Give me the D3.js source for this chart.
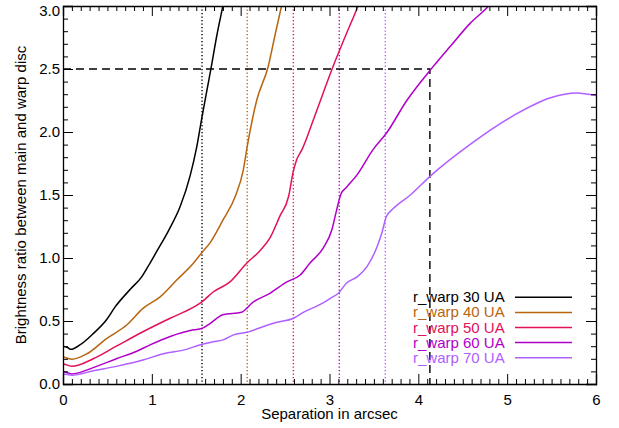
<!DOCTYPE html>
<html><head><meta charset="utf-8">
<script src="https://cdn.jsdelivr.net/npm/d3@7"></script>
<style>body{margin:0;background:#fff}svg{display:block}text{font-family:"Liberation Sans",Arial,Helvetica,sans-serif}</style>
</head><body><svg id="c" width="619" height="428"></svg>
<script>
const seriesNames = ["r_warp 30 UA","r_warp 40 UA","r_warp 50 UA","r_warp 60 UA","r_warp 70 UA"];
const seriesColors = ["#000000","#b8650f","#e3105a","#b000c8","#b060ff"];
const markerX = [1.565, 2.074, 2.593, 3.11, 3.628];
const xTicks = [0,1,2,3,4,5,6];
const yTicks = [0.0,0.5,1.0,1.5,2.0,2.5,3.0];
const refY = 2.5, refX = 4.13;

const s30 = [[0,0.30],[0.05,0.29],[0.09,0.275],[0.19,0.31],[0.34,0.40],[0.49,0.51],[0.585,0.61],[0.755,0.75],[0.886,0.85],[0.98,0.96],[1.07,1.07],[1.19,1.22],[1.32,1.41],[1.43,1.65],[1.505,1.88],[1.56,2.10],[1.62,2.33],[1.67,2.52],[1.73,2.76],[1.80,3.0],[1.83,3.1]];
const s40 = [[0,0.217],[0.05,0.205],[0.1,0.196],[0.27,0.24],[0.49,0.36],[0.72,0.47],[0.90,0.60],[1.09,0.69],[1.28,0.825],[1.47,0.96],[1.56,1.04],[1.655,1.12],[1.80,1.30],[1.94,1.49],[2.03,1.70],[2.075,1.89],[2.18,2.25],[2.31,2.52],[2.39,2.78],[2.46,3.0],[2.49,3.1]];
const s50 = [[0,0.16],[0.05,0.15],[0.1,0.14],[0.34,0.20],[0.60,0.30],[0.90,0.415],[1.20,0.52],[1.47,0.61],[1.56,0.65],[1.69,0.73],[1.88,0.81],[2.07,0.96],[2.22,1.06],[2.33,1.16],[2.44,1.33],[2.54,1.49],[2.59,1.68],[2.63,1.78],[2.69,1.86],[2.82,2.10],[3.04,2.52],[3.19,2.78],[3.32,3.0],[3.37,3.1]];
const s60 = [[0,0.10],[0.05,0.09],[0.1,0.08],[0.34,0.13],[0.60,0.20],[0.83,0.26],[0.98,0.31],[1.20,0.375],[1.47,0.43],[1.56,0.44],[1.655,0.48],[1.80,0.55],[2.01,0.57],[2.14,0.65],[2.33,0.72],[2.52,0.81],[2.67,0.865],[2.78,0.96],[2.93,1.08],[3.025,1.22],[3.08,1.38],[3.13,1.51],[3.19,1.56],[3.31,1.66],[3.49,1.86],[3.64,1.99],[3.87,2.25],[4.15,2.505],[4.36,2.68],[4.58,2.86],[4.79,3.0],[4.85,3.05]];
const s70 = [[0,0.08],[0.05,0.075],[0.1,0.07],[0.34,0.105],[0.60,0.14],[0.90,0.19],[1.13,0.24],[1.39,0.275],[1.54,0.31],[1.69,0.335],[1.80,0.35],[1.92,0.39],[2.07,0.41],[2.25,0.455],[2.41,0.49],[2.59,0.52],[2.71,0.57],[2.89,0.63],[3.01,0.68],[3.10,0.72],[3.19,0.80],[3.31,0.85],[3.42,0.93],[3.53,1.08],[3.59,1.20],[3.64,1.33],[3.70,1.38],[3.91,1.50],[4.15,1.66],[4.58,1.90],[5.07,2.13],[5.48,2.27],[5.78,2.31],[6.0,2.29]];
const seriesData = [s30,s40,s50,s60,s70];

const svg = d3.select("#c");
const L=63, R=596, T=6, B=384;
const FS = 15;
const x = d3.scaleLinear().domain([0,6]).range([L,R]);
const y = d3.scaleLinear().domain([0,3]).range([B,T]);

svg.append("defs").append("clipPath").attr("id","clip").append("rect")
  .attr("x",L).attr("y",T).attr("width",R-L).attr("height",B-T);

const g = svg.append("g").attr("clip-path","url(#clip)");

markerX.forEach((v,i)=>{
  g.append("line").attr("x1",x(v)).attr("x2",x(v)).attr("y1",T).attr("y2",B)
   .attr("stroke",seriesColors[i]).attr("stroke-width",1.4).attr("stroke-dasharray","1.3,2.2");
});
g.append("path").attr("d",`M${x(0)},${y(refY)}H${x(refX)}V${y(0)}`)
  .attr("fill","none").attr("stroke","#000").attr("stroke-width",1.4).attr("stroke-dasharray","8,5");

const line = d3.line().x(d=>x(d[0])).y(d=>y(d[1])).curve(d3.curveMonotoneX);
seriesData.forEach((d,i)=>{
  g.append("path").attr("d",line(d)).attr("fill","none")
   .attr("stroke",seriesColors[i]).attr("stroke-width",1.5);
});

const minorX = d3.range(0,61).filter(v=>v%10!==0).map(v=>v/10);
const minorY = d3.range(0,31).filter(v=>v%5!==0).map(v=>v/10);
function ax(make, tr, major, minor, fmt, pad){
  const gg = svg.append("g").attr("transform",tr);
  gg.call(make().tickValues(minor).tickSize(-5).tickFormat(""));
  gg.select(".domain").remove();
  const gm = svg.append("g").attr("transform",tr);
  gm.call(make().tickValues(major).tickSize(-10).tickPadding(pad).tickFormat(fmt || (()=>"")));
  gm.selectAll("text").attr("font-size",FS).attr("fill","#000").attr("font-family",null);
  [gg,gm].forEach(q=>q.selectAll(".tick line").attr("stroke","#000").attr("stroke-width",1));
  return gm;
}
ax(()=>d3.axisBottom(x), `translate(0,${B})`, xTicks, minorX, d3.format("d"), 10);
ax(()=>d3.axisTop(x), `translate(0,${T})`, xTicks, minorX, null, 0);
const gy = ax(()=>d3.axisLeft(y), `translate(${L},0)`, yTicks, minorY, d3.format(".1f"), 3);
gy.selectAll(".tick").filter(d=>d===3).select("text").attr("dy","0.62em");
ax(()=>d3.axisRight(y), `translate(${R},0)`, yTicks, minorY, null, 0);
svg.selectAll(".domain").attr("stroke","#000").attr("stroke-width",1.3);

svg.append("text").attr("x",(L+R)/2).attr("y",419).attr("text-anchor","middle")
  .attr("font-size",FS).text("Separation in arcsec");
svg.append("text").attr("transform",`translate(26,${(T+B)/2}) rotate(-90)`).attr("text-anchor","middle")
  .attr("font-size",FS).text("Brightness ratio between main and warp disc");

seriesNames.forEach((n,i)=>{
  const yy = 297.3 + i*15.1;
  svg.append("text").attr("x",413).attr("y",yy+5).attr("font-size",FS)
    .attr("fill",seriesColors[i]).text(n);
  svg.append("line").attr("x1",515).attr("x2",572).attr("y1",yy).attr("y2",yy)
    .attr("stroke",seriesColors[i]).attr("stroke-width",1.5);
});
</script></body></html>
